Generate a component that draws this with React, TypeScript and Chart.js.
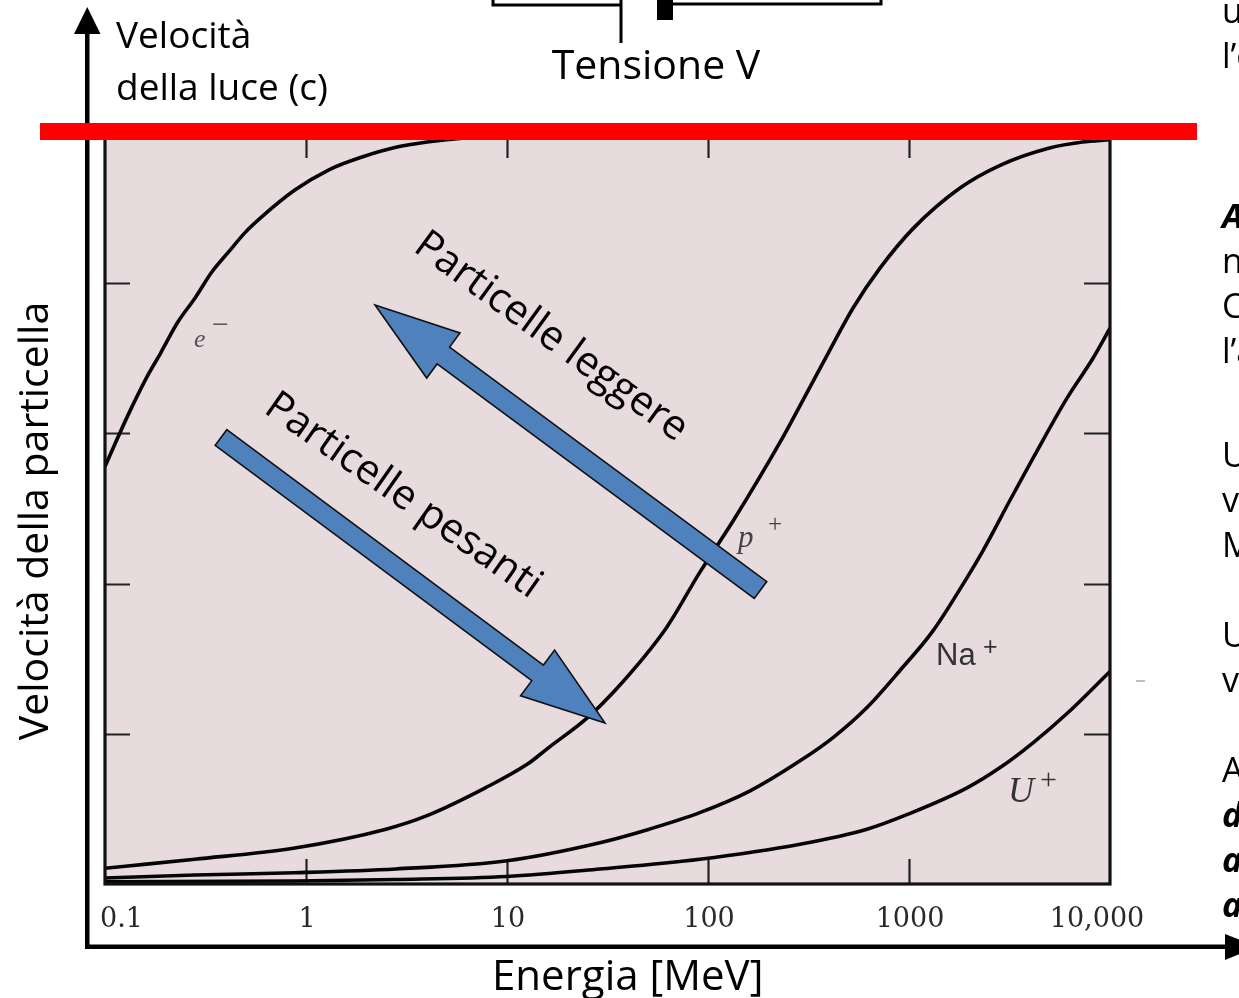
import React, { useEffect, useRef } from 'react';
import { Chart, registerables } from 'chart.js';

Chart.register(...registerables);

// ---------- data ----------
const xTickValues = [0.1, 1, 10, 100, 1000, 10000];
const xTickLabels = ['0.1', '1', '10', '100', '1000', '10,000'];
const yTickValues = [0.2, 0.4, 0.6, 0.8];

const seriesNames = ['e−', 'p+', 'Na+', 'U+'];

const electronEnergy = [0.1, 0.13, 0.16, 0.19, 0.23, 0.28, 0.34, 0.41, 0.5, 0.6, 0.88, 1.3, 1.9, 2.8, 4, 6, 10, 30, 100, 1000, 10000];
const electronSpeed = [0.556, 0.624, 0.673, 0.708, 0.748, 0.78, 0.815, 0.841, 0.868, 0.888, 0.924, 0.951, 0.968, 0.981, 0.988, 0.993, 0.996, 0.999, 1, 1, 1];

const protonEnergy = [0.1, 0.13, 0.28, 0.88, 2.5, 4, 7.8, 12.7, 16, 25, 34, 62, 91, 133, 228, 287, 391, 527, 717, 1050, 1800, 2840, 5000, 7300, 10000];
const protonSpeed = [0.021, 0.024, 0.033, 0.048, 0.073, 0.091, 0.128, 0.16, 0.181, 0.221, 0.256, 0.341, 0.415, 0.483, 0.588, 0.637, 0.704, 0.767, 0.82, 0.873, 0.927, 0.957, 0.98, 0.988, 0.991];

const sodiumEnergy = [0.1, 0.28, 0.88, 2.8, 10, 29, 51, 91, 162, 287, 419, 618, 900, 1316, 1945, 2335, 3180, 4140, 6110, 8230, 10000];
const sodiumSpeed = [0.008, 0.012, 0.015, 0.02, 0.031, 0.055, 0.073, 0.095, 0.124, 0.164, 0.195, 0.235, 0.284, 0.337, 0.408, 0.444, 0.511, 0.567, 0.647, 0.7, 0.74];

const uraniumEnergy = [0.1, 0.88, 2.8, 10, 29, 91, 287, 618, 990, 1945, 2840, 4140, 6110, 10000];
const uraniumSpeed = [0.003, 0.004, 0.006, 0.01, 0.02, 0.033, 0.053, 0.073, 0.093, 0.128, 0.155, 0.188, 0.227, 0.283];

// ---------- styling ----------
const SANS = '"Open Sans", "Noto Sans", sans-serif';
const SERIF = '"Liberation Serif", "DejaVu Serif", serif';
const TICKFONT = '27px "DejaVu Serif", serif';

const toPoints = (xs: number[], ys: number[]) => xs.map((x, i) => ({ x, y: ys[i] }));

function drawArrow(ctx: CanvasRenderingContext2D, tx: number, ty: number, hx: number, hy: number, sw: number, hw: number, hl: number) {
  const dx = hx - tx, dy = hy - ty;
  const len = Math.hypot(dx, dy);
  const ux = dx / len, uy = dy / len;
  const nx = -uy, ny = ux;
  const neckX = hx - ux * hl, neckY = hy - uy * hl;
  ctx.beginPath();
  ctx.moveTo(tx + nx * sw / 2, ty + ny * sw / 2);
  ctx.lineTo(neckX + nx * sw / 2, neckY + ny * sw / 2);
  ctx.lineTo(neckX + nx * hw / 2, neckY + ny * hw / 2);
  ctx.lineTo(hx, hy);
  ctx.lineTo(neckX - nx * hw / 2, neckY - ny * hw / 2);
  ctx.lineTo(neckX - nx * sw / 2, neckY - ny * sw / 2);
  ctx.lineTo(tx - nx * sw / 2, ty - ny * sw / 2);
  ctx.closePath();
  ctx.fillStyle = '#4f81bd';
  ctx.fill();
  ctx.lineWidth = 1.6;
  ctx.strokeStyle = '#111';
  ctx.stroke();
}

function rotatedText(ctx: CanvasRenderingContext2D, text: string, cx: number, cy: number, deg: number, font: string) {
  ctx.save();
  ctx.translate(cx, cy);
  ctx.rotate((deg * Math.PI) / 180);
  ctx.font = font;
  ctx.textAlign = 'center';
  ctx.textBaseline = 'middle';
  ctx.fillStyle = '#000';
  ctx.fillText(text, 0, 0);
  ctx.restore();
}

const decorPlugin = {
  id: 'decor',
  beforeDatasetsDraw(chart: any) {
    const { ctx, chartArea: a } = chart;
    const xs = chart.scales.x;
    const ys = chart.scales.y;
    ctx.save();
    ctx.fillStyle = '#e7dbde';
    ctx.fillRect(a.left, a.top, a.right - a.left, a.bottom - a.top);
    ctx.strokeStyle = '#222';
    ctx.lineWidth = 2.2;
    ctx.beginPath();
    xTickValues.slice(1, -1).forEach((v) => {
      const px = Math.round(xs.getPixelForValue(v)) + 0.5;
      ctx.moveTo(px, a.bottom);
      ctx.lineTo(px, a.bottom - 25);
      ctx.moveTo(px, a.top);
      ctx.lineTo(px, a.top + 25);
    });
    yTickValues.forEach((v) => {
      const py = Math.round(ys.getPixelForValue(v)) + 0.5;
      ctx.moveTo(a.left, py);
      ctx.lineTo(a.left + 25, py);
      ctx.moveTo(a.right, py);
      ctx.lineTo(a.right - 26, py);
    });
    ctx.stroke();

    // x tick labels, placed from the log scale (first label sits inside the frame, last nudged in)
    ctx.fillStyle = '#2a2a2a';
    ctx.font = TICKFONT;
    ctx.textBaseline = 'alphabetic';
    xTickValues.forEach((v, i) => {
      const px = xs.getPixelForValue(v);
      if (i === 0) {
        ctx.textAlign = 'left';
        ctx.fillText(xTickLabels[i], px - 5, 927);
      } else if (i === xTickValues.length - 1) {
        ctx.textAlign = 'center';
        ctx.fillText(xTickLabels[i], px - 13, 927);
      } else {
        ctx.textAlign = 'center';
        ctx.fillText(xTickLabels[i], px + 1, 927);
      }
    });
    ctx.restore();
  },
  afterDatasetsDraw(chart: any) {
    const { ctx, chartArea: a } = chart;
    ctx.save();

    // plot frame
    ctx.strokeStyle = '#111';
    ctx.lineWidth = 3.2;
    ctx.strokeRect(a.left, a.top, a.right - a.left, a.bottom - a.top);

    // curve labels
    ctx.textAlign = 'left';
    ctx.textBaseline = 'alphabetic';
    ctx.fillStyle = '#555';
    ctx.font = `italic 26px ${SERIF}`;
    ctx.fillText('e', 194, 347);
    ctx.font = `30px ${SERIF}`;
    ctx.fillText('−', 212, 334);

    ctx.fillStyle = '#444';
    ctx.font = `italic 31px ${SERIF}`;
    ctx.fillText('p', 738, 547);
    ctx.font = `25px ${SERIF}`;
    ctx.fillText('+', 768, 532);

    ctx.fillStyle = '#333';
    ctx.font = `31px "Liberation Sans", sans-serif`;
    ctx.fillText('Na', 936, 665);
    ctx.font = `25px "Liberation Sans", sans-serif`;
    ctx.fillText('+', 983, 655);

    ctx.font = `italic 36px ${SERIF}`;
    ctx.fillText('U', 1008, 802);
    ctx.font = `30px ${SERIF}`;
    ctx.fillText('+', 1040, 789);

    // blue arrows
    drawArrow(ctx, 760.5, 590, 375, 305, 21, 56, 85);
    drawArrow(ctx, 221, 437.5, 605, 723, 19.5, 57, 84);

    // rotated labels
    rotatedText(ctx, 'Particelle leggere', 551, 337, 36, `41px ${SANS}`);
    rotatedText(ctx, 'Particelle pesanti', 403, 496, 35, `41px ${SANS}`);

    // outer axes with arrowheads
    ctx.fillStyle = '#000';
    ctx.fillRect(85, 30, 4.5, 919);
    ctx.beginPath();
    ctx.moveTo(87.25, 7);
    ctx.lineTo(100.5, 34);
    ctx.lineTo(74, 34);
    ctx.closePath();
    ctx.fill();
    ctx.fillRect(85, 944.5, 1145, 4.5);
    ctx.beginPath();
    ctx.moveTo(1225, 934);
    ctx.lineTo(1257, 946.75);
    ctx.lineTo(1225, 960);
    ctx.closePath();
    ctx.fill();

    // red "speed of light" line
    ctx.fillStyle = '#ff0000';
    ctx.fillRect(40, 123, 1157, 17);

    // circuit fragment at the top
    ctx.strokeStyle = '#000';
    ctx.lineWidth = 3;
    ctx.beginPath();
    ctx.moveTo(493, -2);
    ctx.lineTo(493, 5);
    ctx.lineTo(621, 5);
    ctx.moveTo(621, -2);
    ctx.lineTo(621, 43);
    ctx.moveTo(673, 4);
    ctx.lineTo(881, 4);
    ctx.lineTo(881, -2);
    ctx.stroke();
    ctx.fillStyle = '#000';
    ctx.fillRect(657, 0, 16, 20);

    // texts
    ctx.fillStyle = '#000';
    ctx.textAlign = 'left';
    ctx.textBaseline = 'alphabetic';
    ctx.font = `37px ${SANS}`;
    ctx.fillText('Velocità', 116, 48);
    ctx.fillText('della luce (c)', 116, 100);
    ctx.font = `41px ${SANS}`;
    ctx.textAlign = 'center';
    ctx.fillText('Tensione V', 656, 79);
    ctx.font = `42px ${SANS}`;
    ctx.textAlign = 'left';
    ctx.fillText('Energia [MeV]', 492, 990);

    ctx.save();
    ctx.translate(48, 521);
    ctx.rotate(-Math.PI / 2);
    ctx.font = `41px ${SANS}`;
    ctx.textAlign = 'center';
    ctx.textBaseline = 'alphabetic';
    ctx.fillText('Velocità della particella', 0, 0);
    ctx.restore();

    // cropped slide text on the right edge
    const side: [string, number, string][] = [
      ['u', 23, ''], ['l’e', 68, ''],
      ['A', 228, 'bold italic '], ['n', 273, ''], ['C', 318, ''], ['l’a', 363, ''],
      ['U', 467, ''], ['v', 512, ''], ['M', 557, ''],
      ['U', 647, ''], ['v', 692, ''],
      ['A', 782, ''], ['d', 827, 'bold italic '], ['a', 872, 'bold italic '], ['a', 917, 'bold italic '],
    ];
    ctx.textAlign = 'left';
    side.forEach(([t, y, style]) => {
      ctx.font = `${style}34px ${SANS}`;
      ctx.fillText(t, 1222, y);
    });

    // small scan artefact
    ctx.strokeStyle = '#aaa';
    ctx.lineWidth = 1.5;
    ctx.beginPath();
    ctx.moveTo(1136, 681);
    ctx.lineTo(1145, 681);
    ctx.stroke();

    ctx.restore();
  },
};

export default function App() {
  const canvasRef = useRef<HTMLCanvasElement | null>(null);

  useEffect(() => {
    const canvas = canvasRef.current;
    if (!canvas) return;
    document.body.style.margin = '0';
    const mk = (label: string, xs: number[], ys: number[]) => ({
      label,
      data: toPoints(xs, ys),
      showLine: true,
      borderColor: '#050505',
      borderWidth: 3.6,
      pointRadius: 0,
      pointHoverRadius: 0,
      fill: false,
      cubicInterpolationMode: 'monotone' as const,
    });
    const chart = new Chart(canvas, {
      type: 'scatter',
      data: {
        datasets: [
          mk(seriesNames[0], electronEnergy, electronSpeed),
          mk(seriesNames[1], protonEnergy, protonSpeed),
          mk(seriesNames[2], sodiumEnergy, sodiumSpeed),
          mk(seriesNames[3], uraniumEnergy, uraniumSpeed),
        ],
      },
      options: {
        animation: false,
        responsive: false,
        devicePixelRatio: 1,
        layout: { padding: { left: 105, right: 129, top: 133, bottom: 0 } },
        plugins: { legend: { display: false }, tooltip: { enabled: false } },
        events: [],
        scales: {
          x: {
            type: 'logarithmic',
            min: 0.1,
            max: 10000,
            position: 'bottom',
            grid: { display: false, drawTicks: false },
            border: { display: false },
            afterBuildTicks: (scale: any) => {
              scale.ticks = xTickValues.map((value) => ({ value }));
            },
            afterFit: (scale: any) => {
              scale.height = 114;
            },
            ticks: {
              display: false,
              autoSkip: false,
              maxRotation: 0,
              callback: (_v: any, i: number) => xTickLabels[i],
            },
          },
          y: {
            type: 'linear',
            min: 0,
            max: 1,
            display: false,
          },
        },
      } as any,
      plugins: [decorPlugin],
    });
    let alive = true;
    const fonts = [`37px "Open Sans"`, `27px "DejaVu Serif"`, `italic 30px "Liberation Serif"`, `30px "Liberation Sans"`, `bold italic 34px "Open Sans"`];
    if ((document as any).fonts) {
      Promise.all(fonts.map((f) => (document as any).fonts.load(f))).then(() => {
        if (alive) chart.update('none');
      }).catch(() => {});
    }
    return () => {
      alive = false;
      chart.destroy();
    };
  }, []);

  return (
    <div style={{ position: 'fixed', left: 0, top: 0, width: 1239, height: 998, background: '#fff', overflow: 'hidden' }}>
      <canvas ref={canvasRef} width={1239} height={998} style={{ display: 'block', width: 1239, height: 998 }} />
    </div>
  );
}
